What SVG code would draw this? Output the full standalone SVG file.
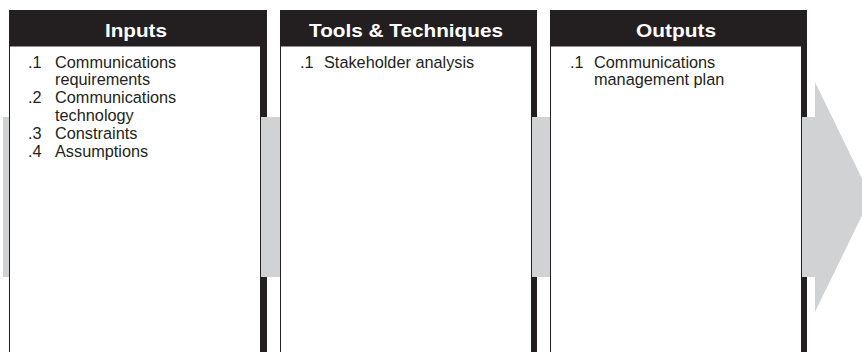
<svg xmlns="http://www.w3.org/2000/svg" width="862" height="352" viewBox="0 0 862 352">
<style>
.hdr{fill:#231f20}
.body{fill:#ffffff;stroke:#231f20;stroke-width:1}
.shadow{fill:#231f20}
.conn{fill:#d1d2d4}
.ht{font-family:"Liberation Sans",Arial,sans-serif;font-weight:bold;font-size:19px;fill:#ffffff;text-anchor:middle}
.bt{font-family:"Liberation Sans",Arial,sans-serif;font-size:16.3px;fill:#231f20}
</style>
<rect width="862" height="352" fill="#ffffff"/>
<g id="inputs">
  <rect class="hdr" x="9" y="10" width="258" height="37"/>
  <rect class="shadow" x="260" y="47" width="7" height="310"/>
  <rect class="body" x="9.5" y="46" width="251" height="312"/>
  <text class="ht" x="136" y="37" textLength="62" lengthAdjust="spacingAndGlyphs">Inputs</text>
  <text class="bt" x="28" y="67.5">.1</text><text class="bt" x="55" y="67.5">Communications</text>
  <text class="bt" x="55" y="85.3">requirements</text>
  <text class="bt" x="28" y="103.1">.2</text><text class="bt" x="55" y="103.1">Communications</text>
  <text class="bt" x="55" y="120.9">technology</text>
  <text class="bt" x="28" y="138.7">.3</text><text class="bt" x="55" y="138.7">Constraints</text>
  <text class="bt" x="28" y="156.5">.4</text><text class="bt" x="55" y="156.5">Assumptions</text>
</g>
<g id="tools">
  <rect class="hdr" x="280" y="10" width="257" height="37"/>
  <rect class="shadow" x="531" y="47" width="6" height="310"/>
  <rect class="body" x="280.5" y="46" width="251" height="312"/>
  <text class="ht" x="406" y="37" textLength="194" lengthAdjust="spacingAndGlyphs">Tools &amp; Techniques</text>
  <text class="bt" x="300" y="67.5">.1</text><text class="bt" x="324" y="67.5">Stakeholder analysis</text>
</g>
<g id="outputs">
  <rect class="hdr" x="550" y="10" width="257" height="37"/>
  <rect class="shadow" x="801" y="47" width="6" height="310"/>
  <rect class="body" x="550.5" y="46" width="251" height="312"/>
  <text class="ht" x="676" y="37" textLength="80" lengthAdjust="spacingAndGlyphs">Outputs</text>
  <text class="bt" x="570" y="67.5">.1</text><text class="bt" x="594" y="67.5">Communications</text>
  <text class="bt" x="594" y="84.5">management plan</text>
</g>
<g id="connectors">
  <rect class="conn" x="3" y="117" width="6" height="160"/>
  <rect class="conn" x="261" y="117" width="19" height="160"/>
  <rect class="conn" x="532" y="117" width="18" height="160"/>
  <polygon class="conn" points="802,117 815,117 815,82 871,197 815,312 815,277 802,277"/>
</g>
</svg>
